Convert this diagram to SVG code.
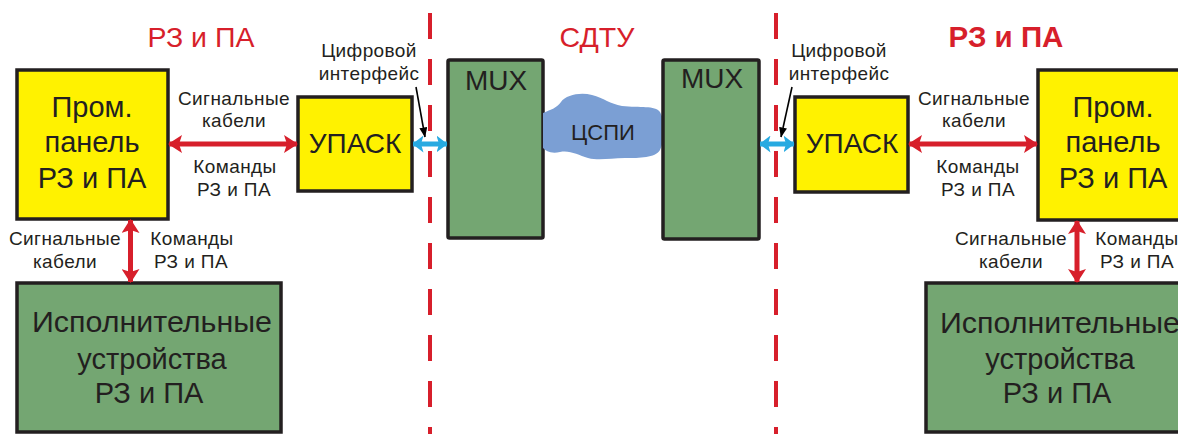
<svg xmlns="http://www.w3.org/2000/svg" width="1178" height="434" viewBox="0 0 1178 434">
<style>
text{font-family:"Liberation Sans",Arial,sans-serif;fill:#231f20;text-anchor:middle}
.big{font-size:29px}
.mid{font-size:28px}
.sm{font-size:19px;letter-spacing:0.4px}
.title{font-size:28.5px;fill:#d71f2b}
.yel{fill:#fff200;stroke:#231f20;stroke-width:3.5}
.grn{fill:#74a672;stroke:#231f20;stroke-width:3.5}
.red{stroke:#d71f2b;stroke-width:5;fill:none;marker-start:url(#rh);marker-end:url(#rh)}
.blue{stroke:#27aae1;stroke-width:5;fill:none;marker-start:url(#bh);marker-end:url(#bh)}
.blk{stroke:#000;stroke-width:1.6;fill:none;marker-end:url(#kh)}
.dash{stroke:#d71f2b;stroke-width:4;stroke-dasharray:26 20;fill:none}
</style>
<defs>
<marker id="rh" viewBox="0 0 14 18" refX="13" refY="9" markerWidth="14" markerHeight="18" markerUnits="userSpaceOnUse" orient="auto-start-reverse"><path d="M0,0 L14,9 L0,18 L3,9 Z" fill="#d71f2b"/></marker>
<marker id="bh" viewBox="0 0 11 17" refX="10.5" refY="8.5" markerWidth="11" markerHeight="17" markerUnits="userSpaceOnUse" orient="auto-start-reverse"><path d="M0,0 L11,8.5 L0,17 L2.5,8.5 Z" fill="#27aae1"/></marker>
<marker id="kh" viewBox="0 0 10 8" refX="9.5" refY="4" markerWidth="10" markerHeight="8" markerUnits="userSpaceOnUse" orient="auto"><path d="M0,0 L10,4 L0,8 Z" fill="#000"/></marker>
</defs>

<g id="titles">
<text class="title" x="201" y="47">РЗ и ПА</text>
<text class="title" x="597" y="47">СДТУ</text>
<text class="title" x="1006" y="47" style="font-weight:bold;font-size:29.5px">РЗ и ПА</text>
</g>

<g id="borders">
<line class="dash" x1="430" y1="13" x2="430" y2="434"/>
<line class="dash" x1="776" y1="13" x2="776" y2="434"/>
</g>

<g id="panel-left">
<rect class="yel" x="17" y="70" width="151" height="149"/>
<text class="big" x="92" y="117">Пром.</text>
<text class="big" x="92" y="152">панель</text>
<text class="big" x="92" y="188">РЗ и ПА</text>
</g>

<g id="upask-left">
<rect class="yel" x="298" y="97" width="114" height="94"/>
<text class="mid" x="355" y="153">УПАСК</text>
</g>

<g id="mux-left">
<rect class="grn" x="448" y="60" width="95" height="178" rx="1.5"/>
<text class="mid" x="496" y="90">MUX</text>
</g>

<g id="cspi">
<path d="M543 113 C550 110 557 108 561 102 C566 95 580 92 592 95 C604 98 610 104 622 106 C640 108 655 105 660 112 C666 122 665 140 660 150 C655 158 640 158 625 158 C610 158 600 161 588 158 C578 155 570 150 560 152 C551 154 546 151 543 148 Z" fill="#7b9fd4"/>
<text x="603" y="140" style="font-size:22px">ЦСПИ</text>
</g>

<g id="mux-right">
<rect class="grn" x="663" y="60" width="96" height="179" rx="1.5"/>
<text class="mid" x="712" y="88">MUX</text>
</g>

<g id="upask-right">
<rect class="yel" x="795" y="97" width="113" height="95"/>
<text class="mid" x="852" y="153">УПАСК</text>
</g>

<g id="panel-right">
<rect class="yel" x="1038" y="70" width="151" height="150"/>
<text class="big" x="1113" y="117">Пром.</text>
<text class="big" x="1113" y="152">панель</text>
<text class="big" x="1113" y="188">РЗ и ПА</text>
</g>

<g id="devices-left">
<rect class="grn" x="17" y="283" width="264" height="149"/>
<text class="big" x="152" y="332" textLength="240" lengthAdjust="spacingAndGlyphs">Исполнительные</text>
<text class="big" x="152" y="369">устройства</text>
<text class="big" x="149" y="403">РЗ и ПА</text>
</g>

<g id="devices-right">
<rect class="grn" x="926" y="283" width="264" height="149"/>
<text class="big" x="1060" y="333" textLength="240" lengthAdjust="spacingAndGlyphs">Исполнительные</text>
<text class="big" x="1060" y="369">устройства</text>
<text class="big" x="1057" y="403">РЗ и ПА</text>
</g>

<g id="connectors">
<line class="red" x1="169" y1="144" x2="297" y2="144"/>
<line class="red" x1="130.5" y1="220" x2="130.5" y2="282"/>
<line class="blue" x1="413" y1="144" x2="447" y2="144"/>
<line class="blk" x1="416" y1="87" x2="425" y2="137"/>
<line class="blue" x1="760" y1="144" x2="794" y2="144"/>
<line class="blk" x1="792" y1="87" x2="781" y2="137"/>
<line class="red" x1="909" y1="144" x2="1037" y2="144"/>
<line class="red" x1="1077" y1="221" x2="1077" y2="282"/>
</g>

<g id="labels">
<text class="sm" x="234" y="105">Сигнальные</text>
<text class="sm" x="234" y="127">кабели</text>
<text class="sm" x="235" y="173">Команды</text>
<text class="sm" x="234" y="196">РЗ и ПА</text>
<text class="sm" x="65" y="245">Сигнальные</text>
<text class="sm" x="65" y="268">кабели</text>
<text class="sm" x="192" y="245">Команды</text>
<text class="sm" x="191" y="268">РЗ и ПА</text>
<text class="sm" x="369" y="57">Цифровой</text>
<text class="sm" x="369" y="80">интерфейс</text>
<text class="sm" x="839" y="57">Цифровой</text>
<text class="sm" x="839" y="80">интерфейс</text>
<text class="sm" x="974" y="105">Сигнальные</text>
<text class="sm" x="974" y="127">кабели</text>
<text class="sm" x="978" y="173">Команды</text>
<text class="sm" x="978" y="196">РЗ и ПА</text>
<text class="sm" x="1011" y="245">Сигнальные</text>
<text class="sm" x="1011" y="268">кабели</text>
<text class="sm" x="1137" y="245">Команды</text>
<text class="sm" x="1137" y="268">РЗ и ПА</text>
</g>
</svg>
